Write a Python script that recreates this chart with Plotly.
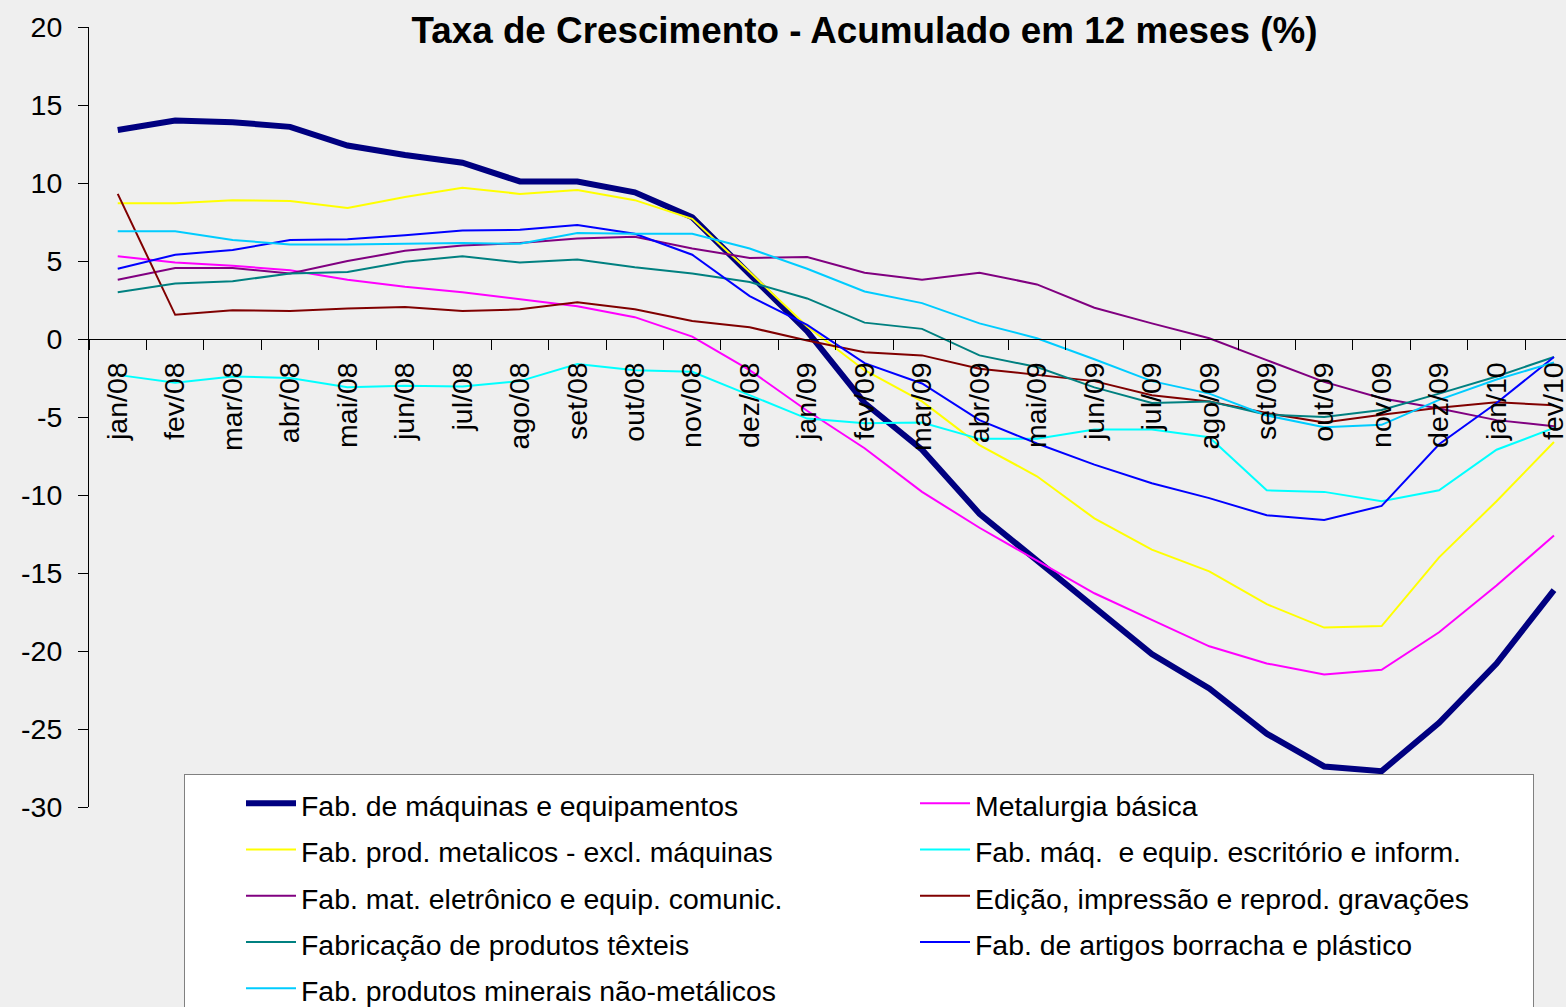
import plotly.graph_objects as go

categories = ["jan/08", "fev/08", "mar/08", "abr/08", "mai/08", "jun/08", "jul/08", "ago/08",
              "set/08", "out/08", "nov/08", "dez/08", "jan/09", "fev/09", "mar/09", "abr/09",
              "mai/09", "jun/09", "jul/09", "ago/09", "set/09", "out/09", "nov/09", "dez/09",
              "jan/10", "fev/10"]

maquinas = [13.4, 14.0, 13.9, 13.6, 12.4, 11.8, 11.3, 10.1, 10.1, 9.4, 7.8, 4.1, 0.5, -4.1,
            -7.1, -11.2, -14.2, -17.2, -20.2, -22.4, -25.3, -27.4, -27.7, -24.6, -20.8, -16.1]
metalurgia = [5.3, 4.9, 4.7, 4.4, 3.8, 3.35, 3.0, 2.55, 2.1, 1.4, 0.15, -2.0, -4.6, -7.0,
              -9.8, -12.1, -14.2, -16.3, -18.0, -19.7, -20.8, -21.5, -21.2, -18.8, -15.8, -12.6]
metalicos = [8.7, 8.7, 8.9, 8.85, 8.4, 9.1, 9.7, 9.3, 9.55, 8.9, 7.7, 4.3, 0.8, -2.0,
             -4.0, -6.8, -8.8, -11.5, -13.5, -14.9, -17.0, -18.5, -18.4, -14.0, -10.4, -6.6]
escritorio = [-2.3, -2.8, -2.4, -2.5, -3.1, -3.0, -3.05, -2.7, -1.6, -2.0, -2.1, -3.6, -5.1, -5.4,
              -5.35, -6.4, -6.4, -5.8, -5.8, -6.3, -9.7, -9.8, -10.4, -9.7, -7.1, -5.7]
eletronico = [3.8, 4.55, 4.55, 4.2, 5.0, 5.65, 6.0, 6.15, 6.45, 6.55, 5.8, 5.2, 5.25, 4.25,
              3.8, 4.25, 3.5, 2.0, 1.0, 0.05, -1.35, -2.75, -3.8, -4.45, -5.2, -5.6]
edicao = [9.3, 1.55, 1.85, 1.8, 1.95, 2.05, 1.8, 1.9, 2.35, 1.9, 1.15, 0.75, -0.1, -0.85,
          -1.05, -1.9, -2.3, -2.7, -3.6, -4.0, -4.75, -5.35, -4.85, -4.4, -4.05, -4.25]
texteis = [3.0, 3.55, 3.7, 4.2, 4.3, 4.95, 5.3, 4.9, 5.1, 4.6, 4.2, 3.65, 2.6, 1.05,
           0.65, -1.05, -1.8, -3.1, -4.1, -4.0, -4.85, -5.0, -4.55, -3.5, -2.4, -1.15]
borracha = [4.5, 5.4, 5.7, 6.35, 6.4, 6.65, 6.95, 7.0, 7.3, 6.75, 5.4, 2.75, 0.9, -1.55,
            -2.85, -5.2, -6.7, -8.05, -9.25, -10.2, -11.3, -11.6, -10.7, -6.75, -4.1, -1.15]
minerais = [6.9, 6.9, 6.35, 6.05, 6.05, 6.1, 6.15, 6.1, 6.8, 6.75, 6.75, 5.8, 4.5, 3.05,
            2.3, 1.0, 0.05, -1.3, -2.7, -3.5, -4.9, -5.65, -5.5, -3.9, -2.6, -1.5]

series_names = [
    "Fab. de máquinas e equipamentos",
    "Metalurgia básica",
    "Fab. prod. metalicos - excl. máquinas",
    "Fab. máq.  e equip. escritório e inform.",
    "Fab. mat. eletrônico e equip. comunic.",
    "Edição, impressão e reprod. gravações",
    "Fabricação de produtos têxteis",
    "Fab. de artigos borracha e plástico",
    "Fab. produtos minerais não-metálicos",
]
series_values = [maquinas, metalurgia, metalicos, escritorio, eletronico, edicao, texteis,
                 borracha, minerais]
series_colors = ["#000080", "#FF00FF", "#FFFF00", "#00FFFF", "#800080", "#800000",
                 "#008080", "#0000FF", "#00CCFF"]
series_widths = [6, 2, 2, 2, 2, 2, 2, 2, 2]

y_tickvals = [20, 15, 10, 5, 0, -5, -10, -15, -20, -25, -30]
y_ticktext = ["20", "15", "10", "5", "0", "-5", "-10", "-15", "-20", "-25", "-30"]

title_text = "Taxa de Crescimento - Acumulado em 12 meses (%)"

FONT = "Liberation Sans, Arial, sans-serif"

fig = go.Figure()
for name, vals, col, w in zip(series_names, series_values, series_colors, series_widths):
    fig.add_trace(go.Scatter(
        x=categories, y=vals, mode="lines",
        name=f'<span style="font-size:28.4px">{name}</span>',
        line=dict(color=col, width=w),
    ))

W, H = 1566, 1007
L, R, T, B = 89, 0, 27, 200
plot_w = W - L - R
plot_h = H - T - B

fig.update_layout(
    width=W, height=H,
    margin=dict(l=L, r=R, t=T, b=B, autoexpand=False),
    paper_bgcolor="#efefef",
    plot_bgcolor="rgba(0,0,0,0)",
    font=dict(family=FONT, color="black"),
    title=dict(text=title_text, x=864.5 / W, xanchor="center", xref="container",
               y=1 - 30 / H, yanchor="middle", yref="container",
               font=dict(family=FONT, size=36.8, color="black", weight="bold")),
    showlegend=True,
    legend=dict(
        orientation="h",
        x=(184 - L) / plot_w, xanchor="left",
        y=(807 - 774) / plot_h, yanchor="top",
        bgcolor="white", bordercolor="#808080", borderwidth=1,
        font=dict(family=FONT, size=33.3, color="black"),
        itemwidth=50,
        entrywidth=553,
        indentation=56,
        traceorder="normal",
    ),
    xaxis=dict(
        type="category",
        categoryorder="array", categoryarray=categories,
        range=[-0.5, -0.5 + plot_w / 57.45],
        anchor="free", position=0.6,
        showline=True, linecolor="black", linewidth=1,
        ticks="outside", ticklen=10, tickcolor="black", tickwidth=1,
        tickson="boundaries",
        tickangle=-90,
        tickfont=dict(family=FONT, size=28.5, color="black"),
        ticklabelstandoff=11,
        showgrid=False, zeroline=False,
    ),
    yaxis=dict(
        range=[-30, 20],
        tickmode="array", tickvals=y_tickvals, ticktext=y_ticktext,
        showline=True, linecolor="black", linewidth=1,
        ticks="outside", ticklen=10, tickcolor="black", tickwidth=1,
        tickfont=dict(family=FONT, size=28.5, color="black"),
        ticklabelstandoff=10,
        showgrid=False, zeroline=False,
    ),
)

fig.write_html(
    "out.html",
    config={"displayModeBar": False},
    post_script="document.body.style.margin='0';document.body.style.overflow='hidden';",
)
